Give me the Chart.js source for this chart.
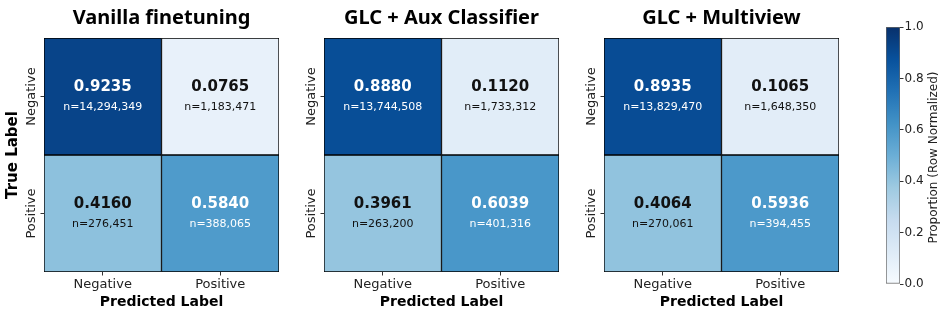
<!DOCTYPE html>
<html>
<head>
<meta charset="utf-8">
<script src="https://cdn.jsdelivr.net/npm/chart.js@4.4.1/dist/chart.umd.min.js"></script>
<style>
  body { margin: 0; background: #fff; }
  #wrap { position: relative; width: 947px; height: 317px; overflow: hidden; }
  canvas { position: absolute; top: 0; }
</style>
</head>
<body>
<div id="wrap">
  <canvas id="cm0" width="290" height="317" style="left:0px"></canvas>
  <canvas id="cm1" width="290" height="317" style="left:280px"></canvas>
  <canvas id="cm2" width="290" height="317" style="left:560px"></canvas>
  <canvas id="cbar" width="77" height="317" style="left:870px"></canvas>
</div>
<script>
// confusion matrices, rows = true label, cols = predicted label
const predLabels = ['Negative', 'Positive'];
const trueLabels = ['Negative', 'Positive'];
const panelTitles = ['Vanilla finetuning', 'GLC + Aux Classifier', 'GLC + Multiview'];

const vanillaProps = [[0.9235, 0.0765], [0.4160, 0.5840]];
const vanillaCounts = [[14294349, 1183471], [276451, 388065]];
const auxProps = [[0.8880, 0.1120], [0.3961, 0.6039]];
const auxCounts = [[13744508, 1733312], [263200, 401316]];
const multiProps = [[0.8935, 0.1065], [0.4064, 0.5936]];
const multiCounts = [[13829470, 1648350], [270061, 394455]];

const cbarTicks = [0.0, 0.2, 0.4, 0.6, 0.8, 1.0];

// matplotlib "Blues"
const blues = ['#f7fbff', '#deebf7', '#c6dbef', '#9ecae1', '#6baed6', '#4292c6', '#2171b5', '#08519c', '#08306b'];

function hexRgb(h) {
    return [1, 3, 5].map(i => parseInt(h.slice(i, i + 2), 16));
}

function blueRgb(v) {
    let p = v * (blues.length - 1);
    let i = Math.min(Math.floor(p), blues.length - 2);
    let t = p - i;
    let a = hexRgb(blues[i]), b = hexRgb(blues[i + 1]);
    return a.map((x, k) => Math.round(x + (b[k] - x) * t));
}

function blueAt(v) {
    let c = blueRgb(v);
    return `rgb(${c[0]},${c[1]},${c[2]})`;
}

// same rule seaborn uses for annotation colour
function textColor(v) {
    let lum = blueRgb(v).map(x => {
        x /= 255;
        return x <= 0.03928 ? x / 12.92 : Math.pow((x + 0.055) / 1.055, 2.4);
    });
    let l = 0.2126 * lum[0] + 0.7152 * lum[1] + 0.0722 * lum[2];
    return l > 0.408 ? '#111' : '#fff';
}

function makePanel(id, title, props, counts, showYTitle) {
    const cellText = {
        id: 'cellText',
        afterDatasetsDraw(chart) {
            const ctx = chart.ctx;
            ctx.save();
            ctx.textAlign = 'center';
            ctx.textBaseline = 'middle';
            chart.data.datasets.forEach((ds, r) => {
                chart.getDatasetMeta(r).data.forEach((bar, c) => {
                    let cx = bar.x;
                    let cy = (bar.y + bar.base) / 2;
                    let v = props[r][c];
                    ctx.fillStyle = textColor(v);
                    ctx.font = 'bold 15px "DejaVu Sans"';
                    ctx.fillText(v.toFixed(4), cx, cy - 9);
                    ctx.font = '11px "DejaVu Sans"';
                    ctx.fillText('n=' + counts[r][c].toLocaleString('en-US'), cx, cy + 11);
                });
            });
            ctx.restore();
        }
    };

    // panel title centred over the matrix, plus rotated y tick labels at the scale's tick pixels
    const labels = {
        id: 'labels',
        afterDraw(chart) {
            const ctx = chart.ctx;
            const a = chart.chartArea;
            const y = chart.scales.y;
            ctx.save();
            ctx.fillStyle = '#000';
            ctx.font = 'bold 20px "Noto Sans"';
            ctx.textAlign = 'center';
            ctx.textBaseline = 'middle';
            ctx.fillText(title, (a.left + a.right) / 2, 18);

            ctx.fillStyle = '#222';
            ctx.font = '13px "DejaVu Sans"';
            y.ticks.forEach((t, i) => {
                ctx.save();
                ctx.translate(a.left - 12, y.getPixelForTick(i));
                ctx.rotate(-Math.PI / 2);
                ctx.fillText(t.label, 0, 0);
                ctx.restore();
            });
            ctx.restore();
        }
    };

    new Chart(document.getElementById(id), {
        type: 'bar',
        data: {
            labels: predLabels,
            datasets: trueLabels.map((row, r) => ({
                label: row,
                data: predLabels.map(() => 1),
                backgroundColor: props[r].map(blueAt),
                borderColor: '#000',
                borderWidth: 1,
                borderSkipped: false,
                barPercentage: 1,
                categoryPercentage: 1
            }))
        },
        options: {
            responsive: false,
            animation: false,
            layout: { padding: { top: 38, right: 11 } },
            plugins: {
                legend: { display: false },
                tooltip: { enabled: false }
            },
            scales: {
                x: {
                    stacked: true,
                    grid: { drawOnChartArea: false, offset: false, tickLength: 3.5, color: '#333' },
                    border: { display: false },
                    ticks: { color: '#222', padding: 1, font: { family: 'DejaVu Sans', size: 13 } },
                    title: {
                        display: true,
                        text: 'Predicted Label',
                        color: '#000',
                        font: { family: 'DejaVu Sans', size: 14, weight: 'bold' },
                        padding: { top: 0, bottom: 6 }
                    },
                    afterFit: s => { s.height = 45; }
                },
                y: {
                    stacked: true,
                    reverse: true,
                    min: 0,
                    max: 2,
                    afterBuildTicks: s => { s.ticks = trueLabels.map((l, i) => ({ value: i + 0.5 })); },
                    grid: { drawOnChartArea: false, offset: false, tickLength: 3.5, color: '#333' },
                    border: { display: false },
                    ticks: { display: false, callback: (v, i) => trueLabels[i] },
                    title: {
                        display: showYTitle,
                        text: 'True Label',
                        color: '#000',
                        font: { family: 'DejaVu Sans', size: 15, weight: 'bold' },
                        padding: { top: 4, bottom: 0 }
                    },
                    afterFit: s => { s.width = 44; }
                }
            }
        },
        plugins: [cellText, labels]
    });
}

makePanel('cm0', panelTitles[0], vanillaProps, vanillaCounts, true);
makePanel('cm1', panelTitles[1], auxProps, auxCounts, false);
makePanel('cm2', panelTitles[2], multiProps, multiCounts, false);

// colour bar
const cbarTitle = {
    id: 'cbarTitle',
    afterDraw(chart) {
        const ctx = chart.ctx;
        const a = chart.chartArea;
        ctx.save();
        ctx.fillStyle = '#222';
        ctx.font = '12px "DejaVu Sans"';
        ctx.textAlign = 'center';
        ctx.textBaseline = 'middle';
        ctx.translate(64, (a.top + a.bottom) / 2 + 2);
        ctx.rotate(-Math.PI / 2);
        ctx.fillText('Proportion (Row Normalized)', 0, 0);
        ctx.restore();
    }
};

new Chart(document.getElementById('cbar'), {
    type: 'bar',
    data: {
        labels: [''],
        datasets: [{
            data: [1],
            backgroundColor: c => {
                const area = c.chart.chartArea;
                if (!area) return blues[4];
                const g = c.chart.ctx.createLinearGradient(0, area.bottom, 0, area.top);
                blues.forEach((col, i) => g.addColorStop(i / (blues.length - 1), col));
                return g;
            },
            borderColor: '#666',
            borderWidth: 1,
            borderSkipped: false,
            barPercentage: 1,
            categoryPercentage: 1
        }]
    },
    options: {
        responsive: false,
        animation: false,
        layout: { padding: { left: 16, top: 27, bottom: 33 } },
        plugins: { legend: { display: false }, tooltip: { enabled: false } },
        scales: {
            x: { display: false },
            y: {
                position: 'right',
                min: 0,
                max: 1,
                afterBuildTicks: s => { s.ticks = cbarTicks.map(v => ({ value: v })); },
                grid: { drawOnChartArea: false, tickLength: 3.5, color: '#333' },
                border: { display: false },
                ticks: { color: '#222', padding: 1, font: { family: 'DejaVu Sans', size: 12 }, callback: v => v.toFixed(1) },
                afterFit: s => { s.width = 47; }
            }
        }
    },
    plugins: [cbarTitle]
});
</script>
</body>
</html>
